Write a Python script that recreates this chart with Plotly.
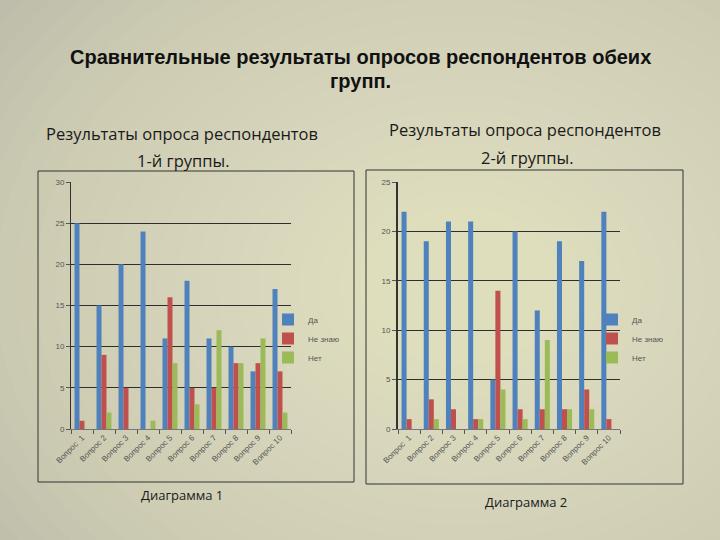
import plotly.graph_objects as go

categories = ["Вопрос  1", "Вопрос 2", "Вопрос 3", "Вопрос 4", "Вопрос 5",
              "Вопрос 6", "Вопрос 7", "Вопрос 8", "Вопрос 9", "Вопрос 10"]
series_names = ["Да", "Не знаю", "Нет"]

g1_da = [25, 15, 20, 24, 11, 18, 11, 10, 7, 17]
g1_ne_znayu = [1, 9, 5, 0, 16, 5, 5, 8, 8, 7]
g1_net = [0, 2, 0, 1, 8, 3, 12, 8, 11, 2]

g2_da = [22, 19, 21, 21, 5, 20, 12, 19, 17, 22]
g2_ne_znayu = [1, 3, 2, 1, 14, 2, 2, 2, 4, 1]
g2_net = [0, 1, 0, 1, 4, 1, 9, 2, 2, 0]

colors = ["#4f81bd", "#c0504d", "#9bbb59"]

W, H = 720, 540

fig = go.Figure()

for vals, name, col in zip([g1_da, g1_ne_znayu, g1_net], series_names, colors):
    fig.add_trace(go.Bar(x=categories, y=vals, name=name, marker_color=col,
                         marker_line_width=0, xaxis="x", yaxis="y", legend="legend"))
for vals, name, col in zip([g2_da, g2_ne_znayu, g2_net], series_names, colors):
    fig.add_trace(go.Bar(x=categories, y=vals, name=name, marker_color=col,
                         marker_line_width=0, xaxis="x2", yaxis="y2", legend="legend2"))

tickfont = dict(family="Liberation Sans, Arial, sans-serif", size=8, color="#555555")
xcommon = dict(tickangle=-45, tickfont=tickfont, showgrid=False, showline=True,
               linecolor="#777777", linewidth=1, ticks="outside", tickson="boundaries",
               ticklen=4, tickcolor="#555555", fixedrange=True, automargin=False)
ycommon = dict(tickfont=tickfont, showgrid=True, gridcolor="#2e2e2e", gridwidth=1,
               showline=True, linecolor="#333333", ticks="outside", ticklen=4,
               tickcolor="#555555", dtick=5, zeroline=False, fixedrange=True, automargin=False)

legfont = dict(family="Liberation Sans, Arial", size=8, color="#555555")

# soft radial background built from stacked translucent ellipses
bg_shapes = []
n_rings = 32
cxp, cyp = 0.64, 0.47
for i in range(n_rings):
    r = 0.9 * (1 - i / n_rings)
    bg_shapes.append(dict(type="circle", xref="paper", yref="paper", layer="below",
                          x0=cxp - r, x1=cxp + r, y0=cyp - r * 1.05, y1=cyp + r * 1.05,
                          fillcolor="#efe9d3", opacity=0.06, line=dict(width=0)))

box_shapes = [
    dict(type="rect", xref="paper", yref="paper", x0=38 / W, x1=354 / W,
         y0=(H - 482) / H, y1=(H - 171) / H, line=dict(color="#333333", width=1)),
    dict(type="rect", xref="paper", yref="paper", x0=366 / W, x1=683 / W,
         y0=(H - 484) / H, y1=(H - 170) / H, line=dict(color="#333333", width=1)),
]

fig.update_layout(
    width=W, height=H,
    margin=dict(l=0, r=0, t=0, b=0, pad=0, autoexpand=False),
    paper_bgcolor="#b3b1a3",
    plot_bgcolor="rgba(0,0,0,0)",
    barmode="group",
    bargap=0.32,
    bargroupgap=0,
    showlegend=True,
    xaxis=dict(domain=[71 / W, 291 / W], anchor="y", **xcommon),
    yaxis=dict(domain=[(H - 429) / H, (H - 182) / H], range=[0, 30], anchor="x",
               linewidth=1, **ycommon),
    xaxis2=dict(domain=[398 / W, 620 / W], anchor="y2", **xcommon),
    yaxis2=dict(domain=[(H - 429) / H, (H - 182) / H], range=[0, 25], anchor="x2",
                linewidth=2, **ycommon),
    legend=dict(x=268 / W, y=(H - 305) / H, xanchor="left", yanchor="top",
                bgcolor="rgba(0,0,0,0)", font=legfont, itemwidth=30, tracegroupgap=0),
    legend2=dict(x=592 / W, y=(H - 305) / H, xanchor="left", yanchor="top",
                 bgcolor="rgba(0,0,0,0)", font=legfont, itemwidth=30, tracegroupgap=0),
    shapes=bg_shapes + box_shapes,
)

title_font = dict(family="Liberation Sans Narrow, Arial Narrow, Liberation Sans, sans-serif",
                  size=20, color="#111111")
sub_font = dict(family="Open Sans, Lato, sans-serif", size=16.5, color="#1a1a1a")
cap_font = dict(family="Open Sans, Lato, sans-serif", size=13, color="#1a1a1a")

annotations = [
    dict(text="<b>Сравнительные результаты опросов респондентов обеих</b>", x=360, y=57, font=title_font),
    dict(text="<b>групп.</b>", x=360, y=81, font=title_font),
    dict(text="Результаты опроса респондентов", x=182, y=133, font=sub_font),
    dict(text="1-й группы.", x=183, y=160, font=sub_font),
    dict(text="Результаты опроса респондентов", x=525, y=130, font=sub_font),
    dict(text="2-й группы.", x=527, y=157, font=sub_font),
    dict(text="Диаграмма 1", x=182, y=495, font=cap_font),
    dict(text="Диаграмма 2", x=526, y=502, font=cap_font),
]
for a in annotations:
    fig.add_annotation(text=a["text"], x=a["x"] / W, y=(H - a["y"]) / H, xref="paper", yref="paper",
                       showarrow=False, xanchor="center", yanchor="middle", font=a["font"])

fig.write_html("out.html", config={"displayModeBar": False},
               post_script="document.body.style.margin='0px';")
